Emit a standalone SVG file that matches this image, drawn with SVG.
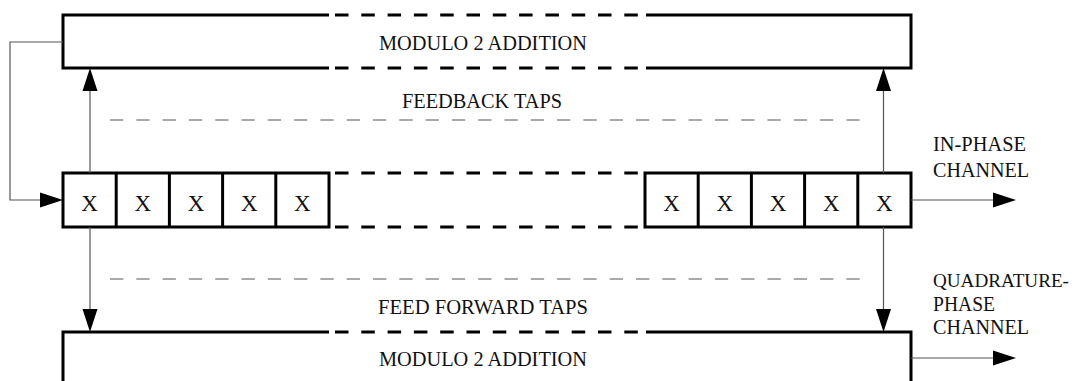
<svg xmlns="http://www.w3.org/2000/svg" width="1077" height="381" viewBox="0 0 1077 381">
<style>
.box{fill:none;stroke:#000;stroke-width:3;stroke-linejoin:miter}
.dash{fill:none;stroke:#000;stroke-width:3;stroke-dasharray:13.5 12.8}
.tap{fill:none;stroke:#555;stroke-width:1;stroke-dasharray:13.3 13}
.wire{fill:none;stroke:#555;stroke-width:1.2}
.head{fill:#000;stroke:none}
.t{font-family:"Liberation Serif","Times New Roman",serif;font-size:21px;fill:#111}
.x{font-family:"Liberation Serif","Times New Roman",serif;font-size:23px;fill:#111;text-anchor:middle}
.c{text-anchor:middle}
</style>
<rect width="1077" height="381" fill="#fff"/>

<g id="top-adder">
  <path class="box" d="M329,15 H63 V68 H329"/>
  <path class="box" d="M646,15 H911 V68 H646"/>
  <line class="dash" x1="335" y1="15" x2="640" y2="15"/>
  <line class="dash" x1="335" y1="68" x2="640" y2="68"/>
  <text class="t c" x="483" y="50" textLength="208" lengthAdjust="spacingAndGlyphs">MODULO 2 ADDITION</text>
</g>

<g id="bottom-adder">
  <path class="box" d="M63,383 V332 H329"/>
  <path class="box" d="M646,332 H911 V383"/>
  <line class="dash" x1="335" y1="332" x2="640" y2="332"/>
  <text class="t c" x="483" y="366" textLength="208" lengthAdjust="spacingAndGlyphs">MODULO 2 ADDITION</text>
</g>

<g id="register-left">
  <rect class="box" x="63" y="173" width="266" height="54"/>
  <line class="box" x1="116.2" y1="173" x2="116.2" y2="227"/>
  <line class="box" x1="169.4" y1="173" x2="169.4" y2="227"/>
  <line class="box" x1="222.6" y1="173" x2="222.6" y2="227"/>
  <line class="box" x1="275.8" y1="173" x2="275.8" y2="227"/>
  <text class="x" x="89.6" y="210.5">X</text>
  <text class="x" x="142.8" y="210.5">X</text>
  <text class="x" x="196" y="210.5">X</text>
  <text class="x" x="249.2" y="210.5">X</text>
  <text class="x" x="302.4" y="210.5">X</text>
</g>

<g id="register-gap">
  <line class="dash" x1="335" y1="173" x2="640" y2="173"/>
  <line class="dash" x1="335" y1="227" x2="640" y2="227"/>
</g>

<g id="register-right">
  <rect class="box" x="645" y="173" width="266" height="54"/>
  <line class="box" x1="698.2" y1="173" x2="698.2" y2="227"/>
  <line class="box" x1="751.4" y1="173" x2="751.4" y2="227"/>
  <line class="box" x1="804.6" y1="173" x2="804.6" y2="227"/>
  <line class="box" x1="857.8" y1="173" x2="857.8" y2="227"/>
  <text class="x" x="671.6" y="210.5">X</text>
  <text class="x" x="724.8" y="210.5">X</text>
  <text class="x" x="778" y="210.5">X</text>
  <text class="x" x="831.2" y="210.5">X</text>
  <text class="x" x="884.4" y="210.5">X</text>
</g>

<g id="feedback-taps">
  <line class="tap" x1="110" y1="120" x2="866" y2="120"/>
  <text class="t c" x="482" y="108" textLength="160" lengthAdjust="spacingAndGlyphs">FEEDBACK TAPS</text>
</g>

<g id="feedforward-taps">
  <line class="tap" x1="110" y1="279" x2="866" y2="279"/>
  <text class="t c" x="483" y="314" textLength="210" lengthAdjust="spacingAndGlyphs">FEED FORWARD TAPS</text>
</g>

<g id="in-phase-label">
  <text class="t" x="933" y="150.5" textLength="93" lengthAdjust="spacingAndGlyphs">IN-PHASE</text>
  <text class="t" x="933" y="177" textLength="96" lengthAdjust="spacingAndGlyphs">CHANNEL</text>
</g>

<g id="quadrature-label">
  <text class="t" x="933" y="287" style="font-size:19.5px" textLength="136" lengthAdjust="spacingAndGlyphs">QUADRATURE-</text>
  <text class="t" x="933" y="311" textLength="62" lengthAdjust="spacingAndGlyphs">PHASE</text>
  <text class="t" x="933" y="334" textLength="96" lengthAdjust="spacingAndGlyphs">CHANNEL</text>
</g>

<g id="connectors">
  <!-- feedback loop -->
  <path class="wire" d="M63,42 H10 V200 H42"/>
  <polygon class="head" points="63,200 40,192.5 40,207.5"/>
  <!-- feedback taps up -->
  <line class="wire" x1="90" y1="173" x2="90" y2="88"/>
  <polygon class="head" points="90,68 82.5,91 97.5,91"/>
  <line class="wire" x1="883.5" y1="173" x2="883.5" y2="88"/>
  <polygon class="head" points="883.5,68 876,91 891,91"/>
  <!-- feed forward taps down -->
  <line class="wire" x1="90" y1="227" x2="90" y2="312"/>
  <polygon class="head" points="90,332 82.5,309 97.5,309"/>
  <line class="wire" x1="883.5" y1="227" x2="883.5" y2="312"/>
  <polygon class="head" points="883.5,332 876,309 891,309"/>
  <!-- outputs -->
  <line class="wire" x1="911" y1="200" x2="996" y2="200"/>
  <polygon class="head" points="1016,200 993,192.5 993,207.5"/>
  <line class="wire" x1="911" y1="358" x2="996" y2="358"/>
  <polygon class="head" points="1016,358 993,350.5 993,365.5"/>
</g>
</svg>
